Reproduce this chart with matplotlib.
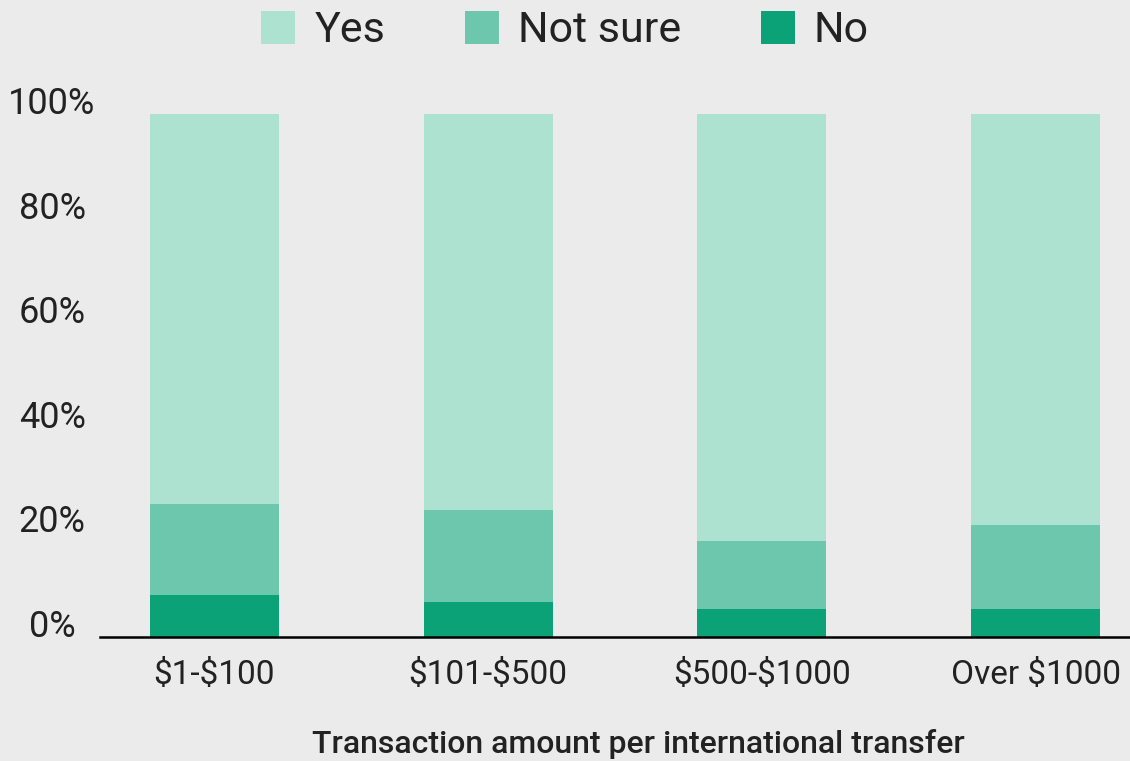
import matplotlib
matplotlib.use("Agg")
import matplotlib.pyplot as plt
import numpy as np

categories = ["$1-$100", "$101-$500", "$500-$1000", "Over $1000"]
no_vals = [8.0, 6.7, 5.4, 5.4]
notsure_vals = [17.4, 17.6, 13.0, 16.0]
yes_vals = [74.6, 75.7, 81.6, 78.6]
series_names = ["Yes", "Not sure", "No"]
ytick_vals = [0, 20, 40, 60, 80, 100]
ytick_labels = ["0%", "20%", "40%", "60%", "80%", "100%"]
xlabel = "Transaction amount per international transfer"

c_yes = "#AEE2D0"
c_ns = "#6CC7AD"
c_no = "#0BA278"
bg = "#EBEBEB"
txt = "#222222"

plt.rcParams['font.family'] = ['Roboto', 'DejaVu Sans']
plt.rcParams['text.parse_math'] = False

W, H = 1130, 761
fig = plt.figure(figsize=(W / 100, H / 100), dpi=100, facecolor=bg)
left_px, right_px, bottom_px, top_px = 100, 1130, 637, 114
ax = fig.add_axes([left_px / W, (H - bottom_px) / H, (right_px - left_px) / W, (bottom_px - top_px) / H])
ax.set_facecolor(bg)

x = np.arange(len(categories))
width = 0.471
no_arr = np.array(no_vals)
ns_arr = np.array(notsure_vals)
yes_arr = np.array(yes_vals)
ax.bar(x, no_arr, width, color=c_no, label="No", zorder=2)
ax.bar(x, ns_arr, width, bottom=no_arr, color=c_ns, label="Not sure", zorder=2)
ax.bar(x, yes_arr, width, bottom=no_arr + ns_arr, color=c_yes, label="Yes", zorder=2)

spacing = 273.67
ax.set_xlim(-(214.5 - left_px) / spacing, 3 + (right_px - 1035.5) / spacing)
ax.set_ylim(0, 100)

for s in ["top", "right", "left"]:
    ax.spines[s].set_visible(False)
ax.spines["bottom"].set_linewidth(1.8)
ax.spines["bottom"].set_color("black")
ax.spines["bottom"].set_zorder(3)

ax.set_xticks(x, categories)
ax.tick_params(axis='x', length=0, pad=16, labelsize=24, labelcolor=txt)
ax.set_yticks(ytick_vals, ytick_labels)
ax.tick_params(axis='y', length=0, pad=34.5, labelsize=26, labelcolor=txt)
for lbl in ax.get_yticklabels():
    lbl.set_ha('center')
    lbl.set_va('baseline')

ax.set_xlabel(xlabel, fontsize=23, fontweight='medium', color=txt)
ax.xaxis.set_label_coords((638 - left_px) / (right_px - left_px), -(753 - bottom_px) / (bottom_px - top_px))
ax.xaxis.label.set_va('baseline')

handles, labels = ax.get_legend_handles_labels()
order = [labels.index(n) for n in series_names]
fig.legend([handles[i] for i in order], [labels[i] for i in order],
           loc='center', bbox_to_anchor=(0.5, 1 - 31 / H), ncol=3, frameon=False,
           fontsize=31, handlelength=0.79, handleheight=0.79, handletextpad=0.44,
           columnspacing=1.85, borderpad=0, labelcolor=txt)

fig.savefig("out.png", dpi=100, facecolor=bg)
